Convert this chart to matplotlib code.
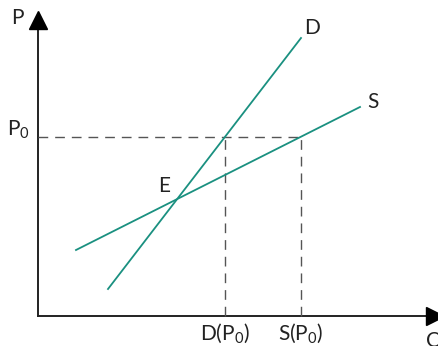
import matplotlib.pyplot as plt

plt.rcParams['font.family'] = ['Lato', 'DejaVu Sans']
plt.rcParams['mathtext.fontset'] = 'custom'
plt.rcParams['mathtext.rm'] = 'Lato'
plt.rcParams['mathtext.default'] = 'rm'

# curve end points (Q, P), origin at axis corner
demand_q = [70, 263]
demand_p = [27, 278]
supply_q = [38, 322]
supply_p = [66, 209]

p0 = 179
q_demand_p0 = 187
q_supply_p0 = 263
eq_q, eq_p = 139, 117

teal = '#1a9080'
ink = '#222222'

fig = plt.figure(figsize=(4.38, 3.46), dpi=100)
ax = fig.add_axes([0, 0, 1, 1])
ax.set_xlim(-38, 400)
ax.set_ylim(-30, 316)
ax.axis('off')

# axes with arrows
ax.plot([0, 0], [0, 290], color=ink, lw=1.4)
ax.plot([0, 392], [0, 0], color=ink, lw=1.4)
ax.plot(0, 296, marker='^', color='black', markersize=13, clip_on=False)
ax.plot(397, 0, marker='>', color='black', markersize=13, clip_on=False)

# dashed guides
ax.plot([0, q_supply_p0], [p0, p0], color='#555555', lw=1, dashes=(7, 5))
ax.plot([q_demand_p0, q_demand_p0], [0, p0], color='#555555', lw=1, dashes=(7, 5))
ax.plot([q_supply_p0, q_supply_p0], [0, p0], color='#555555', lw=1, dashes=(7, 5))

# curves
ax.plot(demand_q, demand_p, color=teal, lw=1.3)
ax.plot(supply_q, supply_p, color=teal, lw=1.3)

fs = 15
ax.text(-21, 298, 'P', fontsize=fs, color=ink, ha='center', va='center')
ax.text(-20, 186, r'P$_0$', fontsize=fs, color=ink, ha='center', va='center')
ax.text(274, 288, 'D', fontsize=fs, color=ink, ha='center', va='center')
ax.text(335, 214, 'S', fontsize=fs, color=ink, ha='center', va='center')
ax.text(eq_q - 13, eq_p + 13, 'E', fontsize=fs, color=ink, ha='center', va='center')
ax.text(q_demand_p0, -17, r'D(P$_0$)', fontsize=fs, color=ink, ha='center', va='center')
ax.text(q_supply_p0, -17, r'S(P$_0$)', fontsize=fs, color=ink, ha='center', va='center')
ax.text(396, -25, 'Q', fontsize=fs, color=ink, ha='center', va='center')

fig.savefig('out.png', dpi=100)
